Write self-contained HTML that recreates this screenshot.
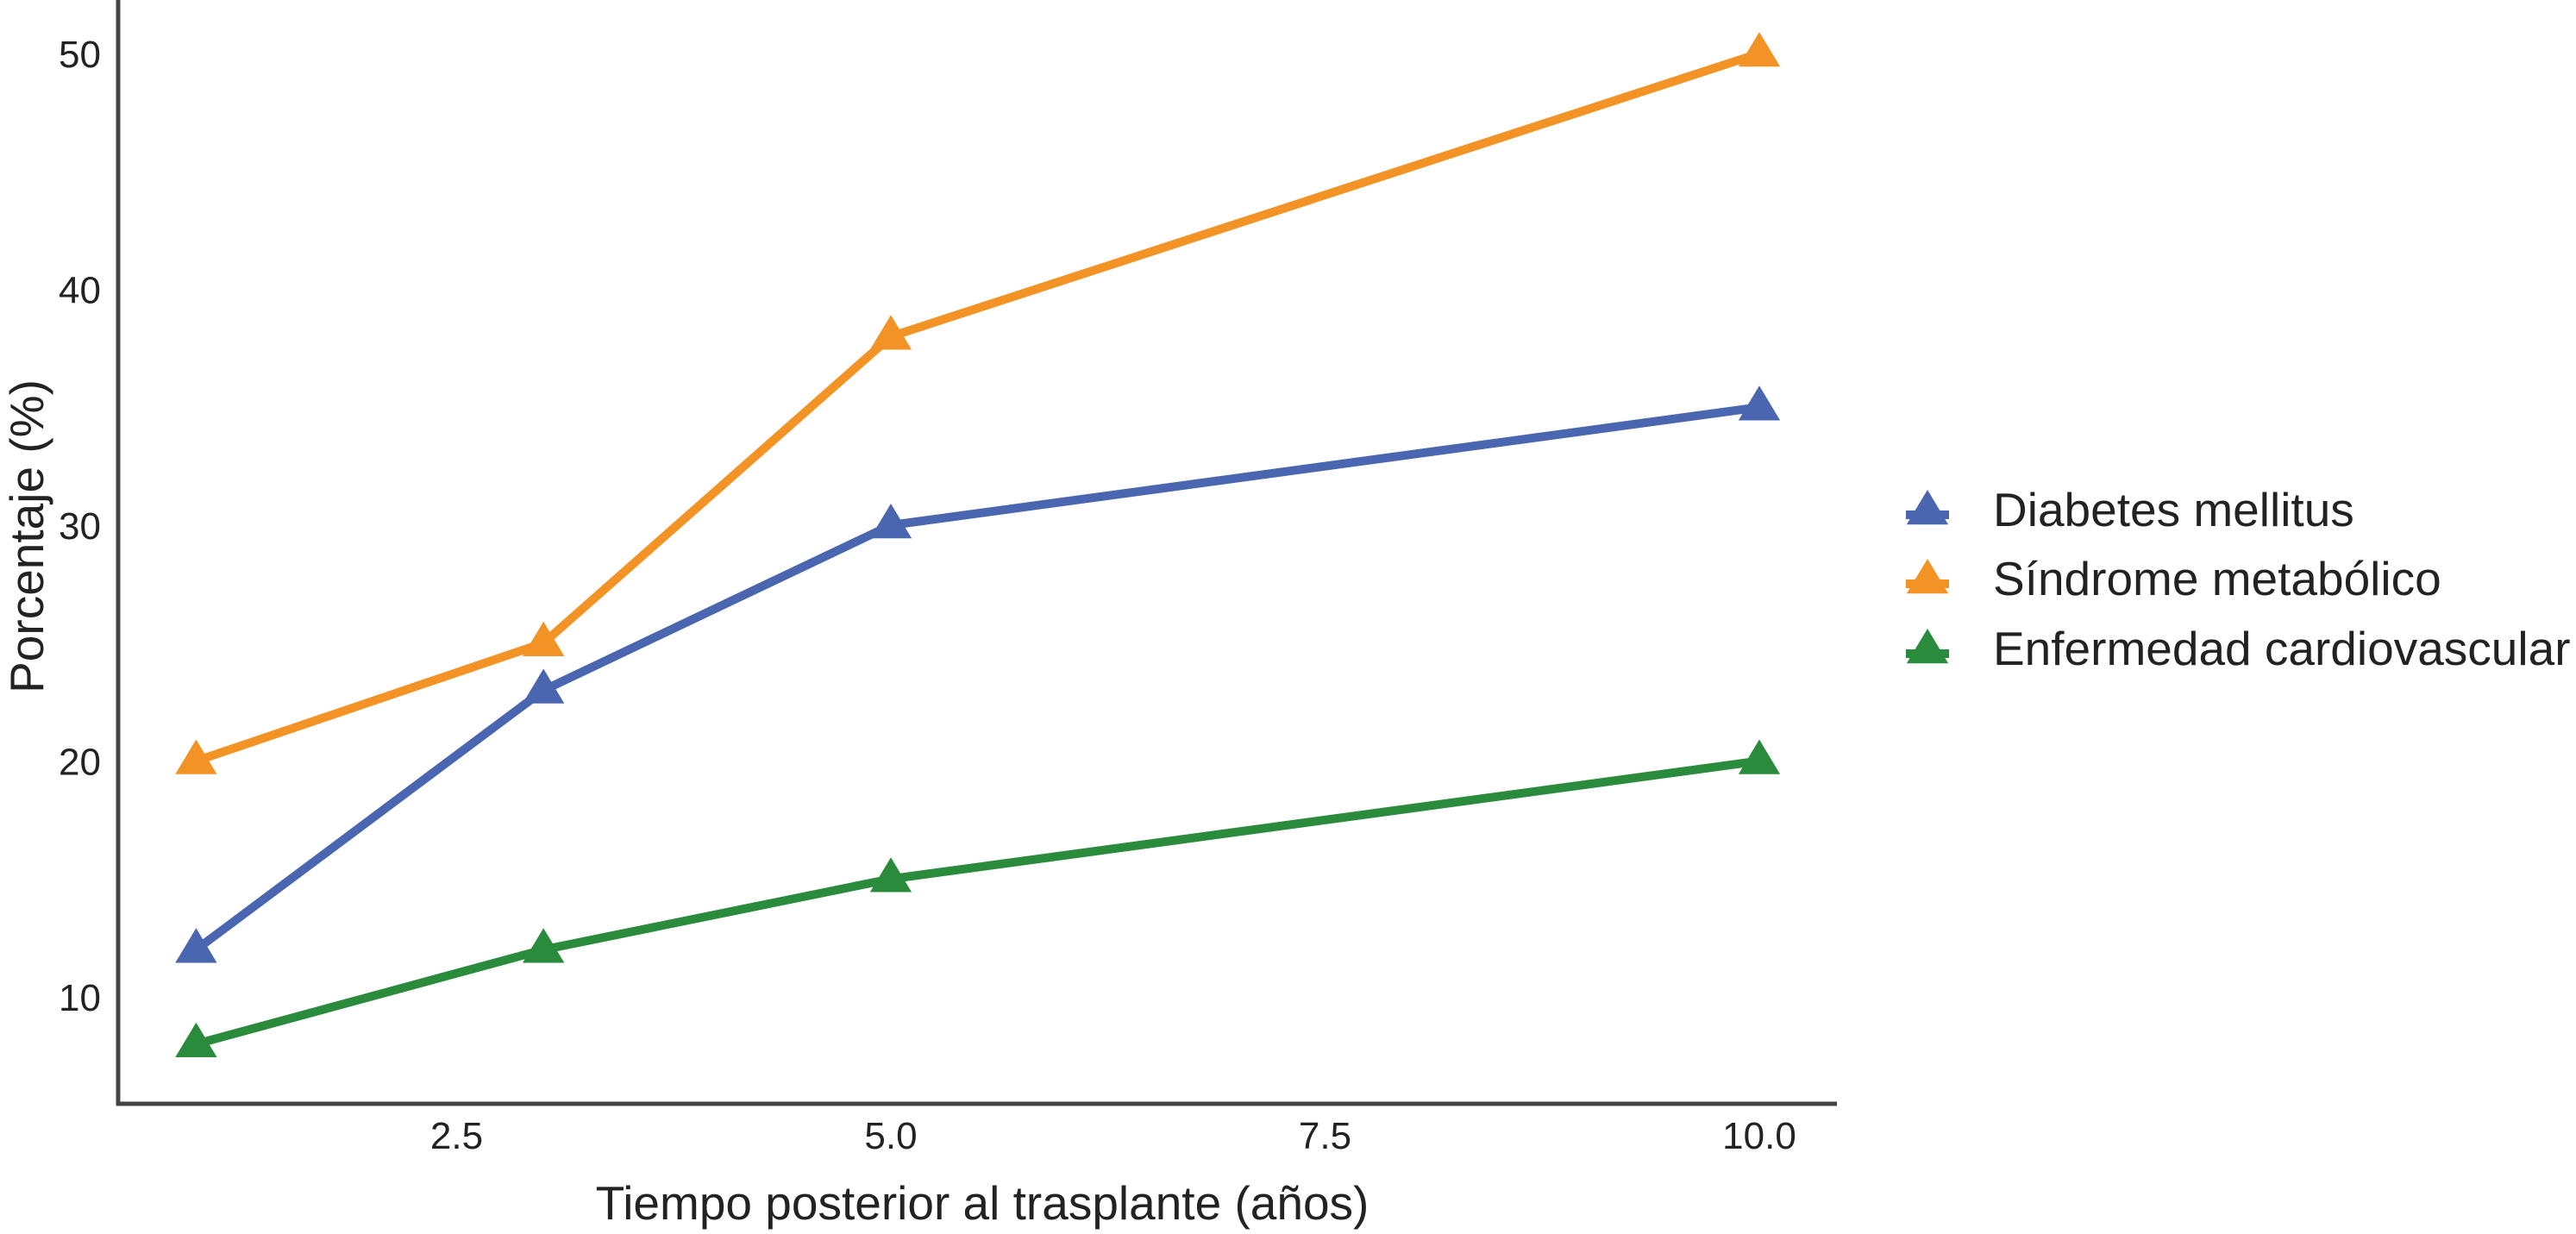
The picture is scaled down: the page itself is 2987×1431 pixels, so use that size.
<!DOCTYPE html>
<html><head><meta charset="utf-8"><style>
html,body{margin:0;padding:0;background:#fff;}
svg{display:block;font-family:"Liberation Sans",sans-serif;}
</style></head><body>
<svg id="chart" width="2987" height="1431" viewBox="0 0 2987 1431" xmlns="http://www.w3.org/2000/svg">
<g id="axes"></g><g id="series"></g><g id="legend"></g>
</svg>
<script>
const xValues = [1, 3, 5, 10];
const diabetes = [12, 23, 30, 35];
const sindrome = [20, 25, 38, 50];
const cardio = [8, 12, 15, 20];
const xTicks = [2.5, 5.0, 7.5, 10.0];
const xTickLabels = ["2.5", "5.0", "7.5", "10.0"];
const yTicks = [10, 20, 30, 40, 50];
const seriesNames = ["Diabetes mellitus", "Síndrome metabólico", "Enfermedad cardiovascular"];

const NS = "http://www.w3.org/2000/svg";
const colors = ["#4a66b0", "#f39325", "#2b8b3c"];
function sx(v){ return 1033 + (v - 5) * 201.4; }
function sy(v){ return 1156 - (v - 10) * 27.35; }
function mk(tag, attrs, parent){ const e = document.createElementNS(NS, tag); for (const k in attrs) e.setAttribute(k, attrs[k]); parent.appendChild(e); return e; }
function tri(cx, cy, r){ return `${cx},${cy - r} ${cx - r * 1.05},${cy + r * 0.75} ${cx + r * 1.05},${cy + r * 0.75}`; }

const axes = document.getElementById('axes');
let yl = mk('line', {x1:137, y1:0, x2:137, y2:1282, stroke:'#444', 'stroke-width':5}, axes);


let xl = mk('line', {x1:135, y1:1280, x2:2130, y2:1280, stroke:'#444', 'stroke-width':5}, axes);


yTicks.forEach(v => {
  const t = mk('text', {x:117, y:sy(v) + 16, 'text-anchor':'end', 'font-size':44, fill:'#222'}, axes);
  t.textContent = v;
  
  
});
xTicks.forEach((v, i) => {
  const t = mk('text', {x:sx(v), y:1332, 'text-anchor':'middle', 'font-size':44, fill:'#222'}, axes);
  t.textContent = xTickLabels[i];
  
  
});
const xt = mk('text', {x:1139, y:1414, 'text-anchor':'middle', 'font-size':55, fill:'#222'}, axes);
xt.textContent = 'Tiempo posterior al trasplante (años)';


const yt = mk('text', {x:0, y:0, 'text-anchor':'middle', 'font-size':55, fill:'#222', transform:'translate(50,622) rotate(-90)'}, axes);
yt.textContent = 'Porcentaje (%)';



const seriesG = document.getElementById('series');
[diabetes, sindrome, cardio].forEach((vals, si) => {
  const g = mk('g', {}, seriesG);
  
  
  const pts = vals.map((v, i) => sx(xValues[i]) + ',' + sy(v)).join(' ');
  const pl = mk('polyline', {points:pts, fill:'none', stroke:colors[si], 'stroke-width':10, 'stroke-linejoin':'round'}, g);
  
  
  vals.forEach((v, i) => {
    const p = mk('polygon', {points:tri(sx(xValues[i]), sy(v) - 2, 23), fill:colors[si]}, g);
    
    
  });
});

const legend = document.getElementById('legend');
const ly = [591, 671, 752];
seriesNames.forEach((n, i) => {
  const g = mk('g', {}, legend);
  
  
  mk('line', {x1:2210, y1:ly[i] + 6, x2:2260, y2:ly[i] + 6, stroke:colors[i], 'stroke-width':10}, g);
  mk('polygon', {points:tri(2235, ly[i], 23), fill:colors[i]}, g);
  const t = mk('text', {x:2311, y:ly[i] + 19, 'font-size':55, fill:'#222'}, g);
  t.textContent = n;
});
</script>
</body></html>
